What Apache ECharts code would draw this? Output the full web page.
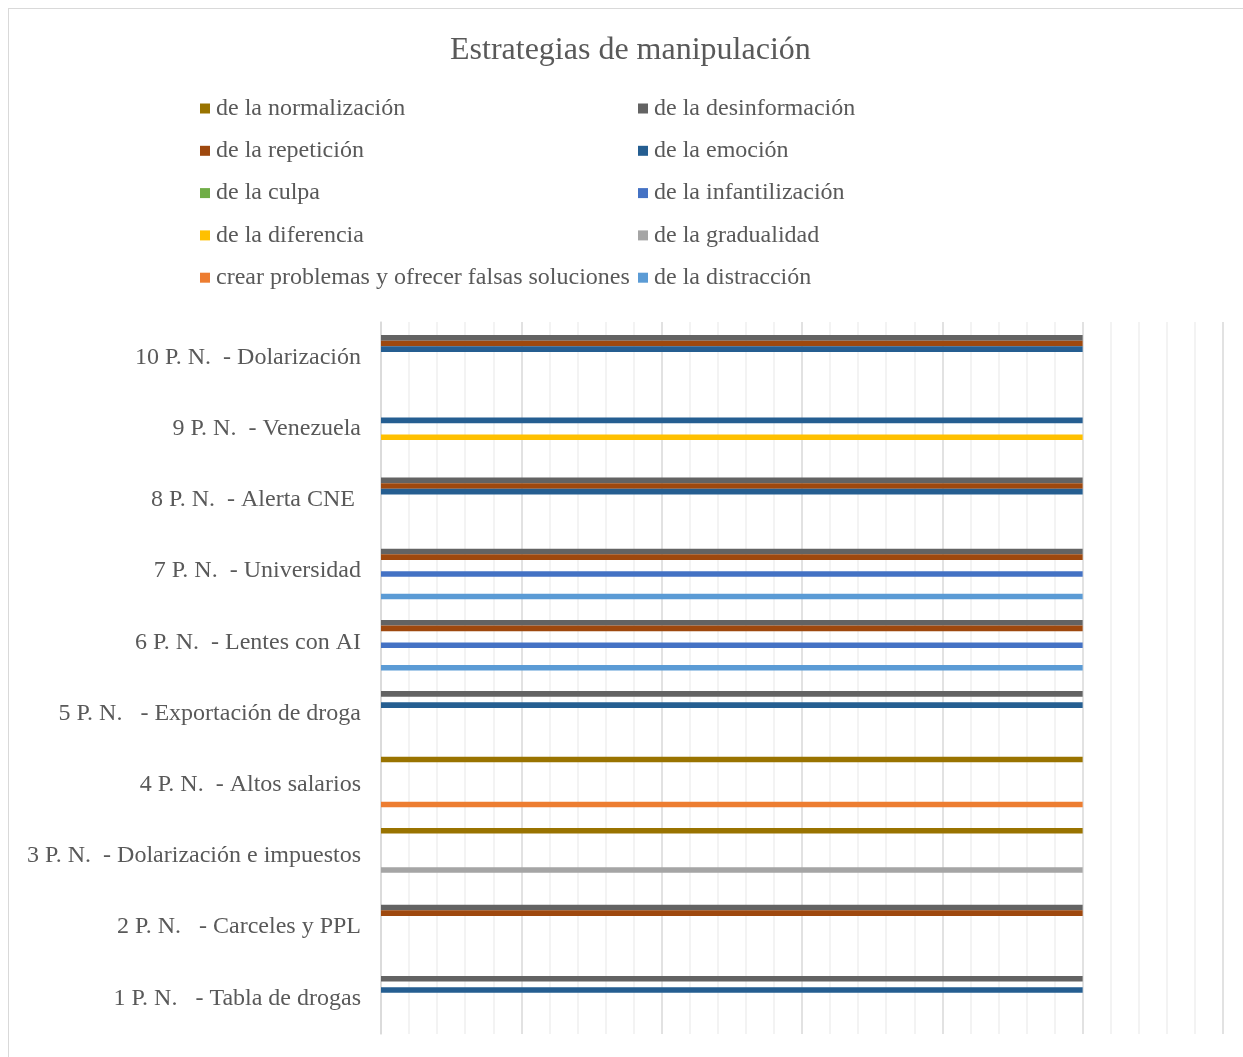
<!DOCTYPE html>
<html>
<head>
<meta charset="utf-8">
<script src="https://cdn.jsdelivr.net/npm/echarts@6/dist/echarts.min.js"></script>
<style>
  html, body { margin: 0; padding: 0; background: #fff; }
  #frame { position: absolute; left: 8px; top: 8px; width: 1240px; height: 1052px; border: 1px solid #d9d9d9; box-sizing: border-box; }
  #chart { width: 1243px; height: 1057px; position: absolute; left: 0; top: 0; }
</style>
</head>
<body>
<div id="frame"></div>
<div id="chart"></div>
<script>
  // categories bottom -> top
  const categories = [
    '1 P. N.   - Tabla de drogas',
    '2 P. N.   - Carceles y PPL',
    '3 P. N.  - Dolarización e impuestos',
    '4 P. N.  - Altos salarios',
    '5 P. N.   - Exportación de droga',
    '6 P. N.  - Lentes con AI',
    '7 P. N.  - Universidad',
    '8 P. N.  - Alerta CNE ',
    '9 P. N.  - Venezuela',
    '10 P. N.  - Dolarización'
  ]

  const seriesNames = [
    'de la normalización',
    'de la desinformación',
    'de la repetición',
    'de la emoción',
    'de la culpa',
    'de la infantilización',
    'de la diferencia',
    'de la gradualidad',
    'crear problemas y ofrecer falsas soluciones',
    'de la distracción'
  ]
  const seriesColors = ['#997300', '#636363', '#9E480E', '#255E91', '#70AD47', '#4472C4', '#FFC000', '#A5A5A5', '#ED7D31', '#5B9BD5']

  // one value per category (bottom -> top), '-' = not used
  const normalizacion   = ['-', '-', 1, 1, '-', '-', '-', '-', '-', '-']
  const desinformacion  = [1, 1, '-', '-', 1, 1, 1, 1, '-', 1]
  const repeticion      = ['-', 1, '-', '-', '-', 1, 1, 1, '-', 1]
  const emocion         = [1, '-', '-', '-', 1, '-', '-', 1, 1, 1]
  const culpa           = ['-', '-', '-', '-', '-', '-', '-', '-', '-', '-']
  const infantilizacion = ['-', '-', '-', '-', '-', 1, 1, '-', '-', '-']
  const diferencia      = ['-', '-', '-', '-', '-', '-', '-', '-', 1, '-']
  const gradualidad     = ['-', '-', 1, '-', '-', '-', '-', '-', '-', '-']
  const crearProblemas  = ['-', '-', '-', 1, '-', '-', '-', '-', '-', '-']
  const distraccion     = ['-', '-', '-', '-', '-', 1, 1, '-', '-', '-']

  const seriesData = [normalizacion, desinformacion, repeticion, emocion, culpa,
    infantilizacion, diferencia, gradualidad, crearProblemas, distraccion]

  const font = 'Liberation Serif'
  const textColor = '#595959'

  const chart = echarts.init(document.getElementById('chart'))

  const series = seriesNames.map((name, i) => ({
    name: name,
    type: 'bar',
    data: seriesData[i],
    barGap: '0%',
    barCategoryGap: '21%',
    itemStyle: { color: seriesColors[i] },
    animation: false
  }))

  const legendBase = {
    orient: 'vertical',
    itemWidth: 10,
    itemHeight: 10,
    itemGap: 15.3,
    icon: 'rect',
    selectedMode: false,
    textStyle: { fontFamily: font, fontSize: 24, color: textColor, lineHeight: 27, padding: [0, 0, 0, 1] }
  }

  chart.setOption({
    title: {
      text: 'Estrategias de manipulación',
      left: 445,
      top: 30,
      textStyle: { fontFamily: font, fontSize: 32, fontWeight: 'normal', color: textColor }
    },
    legend: [
      Object.assign({}, legendBase, { left: 195, top: 90, data: [seriesNames[0], seriesNames[2], seriesNames[4], seriesNames[6], seriesNames[8]] }),
      Object.assign({}, legendBase, { left: 633, top: 90, data: [seriesNames[1], seriesNames[3], seriesNames[5], seriesNames[7], seriesNames[9]] })
    ],
    grid: {
      left: 381,
      right: 20,
      top: 322,
      bottom: 23,
      containLabel: false
    },
    xAxis: {
      type: 'value',
      min: 0,
      max: 1.2,
      interval: 0.2,
      axisLabel: { show: false },
      axisLine: { show: false },
      axisTick: { show: false },
      splitLine: { lineStyle: { color: '#D9D9D9', width: 1.5 } },
      minorTick: { show: false, splitNumber: 5 },
      minorSplitLine: { show: true, lineStyle: { color: '#F0F0F0', width: 1.5 } }
    },
    yAxis: {
      type: 'category',
      data: categories,
      axisLine: { lineStyle: { color: '#D9D9D9', width: 1.5 } },
      axisTick: { length: 7, lineStyle: { color: '#D9D9D9', width: 1.5 } },
      axisLabel: { margin: 20, fontFamily: font, fontSize: 24, color: textColor }
    },
    series: series
  })
</script>
</body>
</html>
